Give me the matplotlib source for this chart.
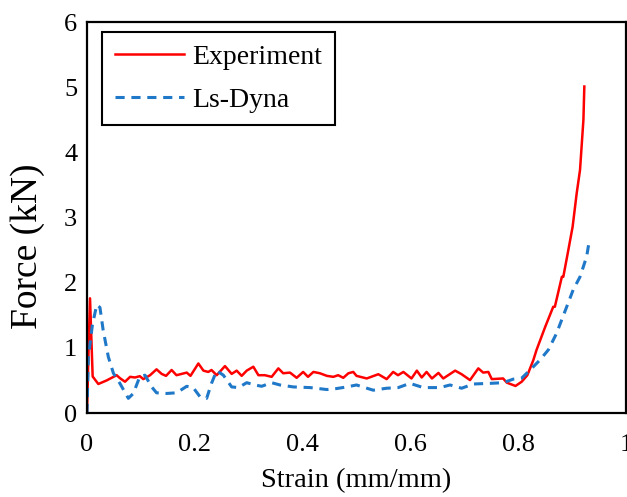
import numpy as np
import matplotlib.pyplot as plt

# Experiment curve (strain, force)
exp_strain = [0, 0.003, 0.0056, 0.0105, 0.021, 0.0365, 0.055, 0.061, 0.0705, 0.080, 0.089, 0.098,
              0.1045, 0.117, 0.129, 0.1385, 0.1466, 0.157, 0.166, 0.1756, 0.185, 0.192, 0.2066,
              0.216, 0.225, 0.231, 0.2406, 0.256, 0.2684, 0.2777, 0.287, 0.2963, 0.3086, 0.318,
              0.33, 0.3426, 0.355, 0.364, 0.3766, 0.389, 0.401, 0.41, 0.42, 0.432, 0.445, 0.457,
              0.466, 0.4755, 0.485, 0.494, 0.5, 0.519, 0.5405, 0.556, 0.568, 0.577, 0.587, 0.602,
              0.612, 0.621, 0.63, 0.64, 0.652, 0.661, 0.683, 0.695, 0.7106, 0.726, 0.735, 0.7446,
              0.751, 0.772, 0.779, 0.795, 0.8065, 0.817, 0.828, 0.834, 0.85, 0.865, 0.868, 0.881,
              0.8837, 0.893, 0.901, 0.9085, 0.9147, 0.921, 0.9227]
exp_force = [0, 1.0, 1.76, 0.56, 0.445, 0.50, 0.58, 0.535, 0.48, 0.555, 0.545, 0.565,
             0.52, 0.58, 0.67, 0.60, 0.57, 0.66, 0.58, 0.60, 0.62, 0.57, 0.76,
             0.65, 0.63, 0.66, 0.58, 0.72, 0.60, 0.65, 0.57, 0.65, 0.71, 0.58,
             0.58, 0.555, 0.685, 0.61, 0.62, 0.54, 0.63, 0.555, 0.63, 0.61, 0.57, 0.555,
             0.58, 0.54, 0.61, 0.63, 0.57, 0.53, 0.595, 0.52, 0.63, 0.58, 0.63, 0.53,
             0.65, 0.545, 0.63, 0.53, 0.615, 0.53, 0.65, 0.595, 0.505, 0.685, 0.62, 0.63,
             0.52, 0.53, 0.465, 0.415, 0.48, 0.58, 0.81, 0.967, 1.32, 1.63, 1.63, 2.09,
             2.09, 2.50, 2.86, 3.37, 3.73, 4.50, 5.01]

# Ls-Dyna curve (strain, force)
dyna_strain = [0, 0.0025, 0.010, 0.018, 0.024, 0.030, 0.0396, 0.049, 0.061, 0.0767, 0.086, 0.098,
               0.1076, 0.12, 0.129, 0.148, 0.1664, 0.185, 0.197, 0.2096, 0.222, 0.231, 0.2406,
               0.253, 0.2684, 0.281, 0.2963, 0.3117, 0.324, 0.3426, 0.358, 0.383, 0.414, 0.445,
               0.463, 0.482, 0.5, 0.531, 0.556, 0.5776, 0.599, 0.624, 0.655, 0.6735, 0.695,
               0.7167, 0.7477, 0.772, 0.791, 0.8065, 0.822, 0.840, 0.856, 0.871, 0.89, 0.902,
               0.9147, 0.927, 0.9314]
dyna_force = [0, 0.86, 1.35, 1.66, 1.62, 1.27, 0.86, 0.61, 0.455, 0.225, 0.30, 0.56,
              0.58, 0.40, 0.31, 0.30, 0.31, 0.41, 0.39, 0.25, 0.225, 0.455, 0.65,
              0.58, 0.40, 0.39, 0.465, 0.43, 0.41, 0.465, 0.43, 0.40, 0.39, 0.36,
              0.375, 0.40, 0.43, 0.35, 0.38, 0.39, 0.455, 0.39, 0.39, 0.43, 0.38,
              0.445, 0.455, 0.465, 0.52, 0.535, 0.66, 0.81, 0.97, 1.22, 1.63, 1.89,
              2.09, 2.40, 2.62]

x_ticks = [0, 0.2, 0.4, 0.6, 0.8, 1]
x_tick_labels = ['0', '0.2', '0.4', '0.6', '0.8', '1']
y_ticks = [0, 1, 2, 3, 4, 5, 6]

plt.rcParams['font.family'] = ['Liberation Serif', 'DejaVu Serif']

fig = plt.figure(figsize=(6.27, 4.97), dpi=100)
ax = fig.add_axes([87 / 627, 1 - 413 / 497, 539 / 627, 391 / 497])

ax.plot(exp_strain, exp_force, color='#ff0000', lw=1.8, label='Experiment')
ax.plot(dyna_strain, dyna_force, color='#1f78c8', lw=2.2, ls=(0, (3, 2.2)), label='Ls-Dyna')

ax.set_xlim(0, 1)
ax.set_ylim(0, 6)
ax.set_xticks(x_ticks)
ax.set_xticklabels(x_tick_labels)
ax.set_yticks(y_ticks)
ax.tick_params(length=0, labelsize=19)
ax.tick_params(axis='x', pad=15)
ax.tick_params(axis='y', pad=7)
for sp in ax.spines.values():
    sp.set_linewidth(1.6)
    sp.set_color('black')

ax.set_xlabel('Strain (mm/mm)', fontsize=20.5, labelpad=9)
ax.set_ylabel('Force (kN)', fontsize=27, va='center')
ax.yaxis.set_label_coords(-0.11, 0.427)

leg = ax.legend(loc='upper left', bbox_to_anchor=(0.028, 0.974), fontsize=20,
                fancybox=False, edgecolor='black', framealpha=1,
                handlelength=2.5, handletextpad=0.3, borderpad=0.45,
                labelspacing=0.62, borderaxespad=0)
leg.get_frame().set_linewidth(1.5)

fig.savefig('out.png', dpi=100)
